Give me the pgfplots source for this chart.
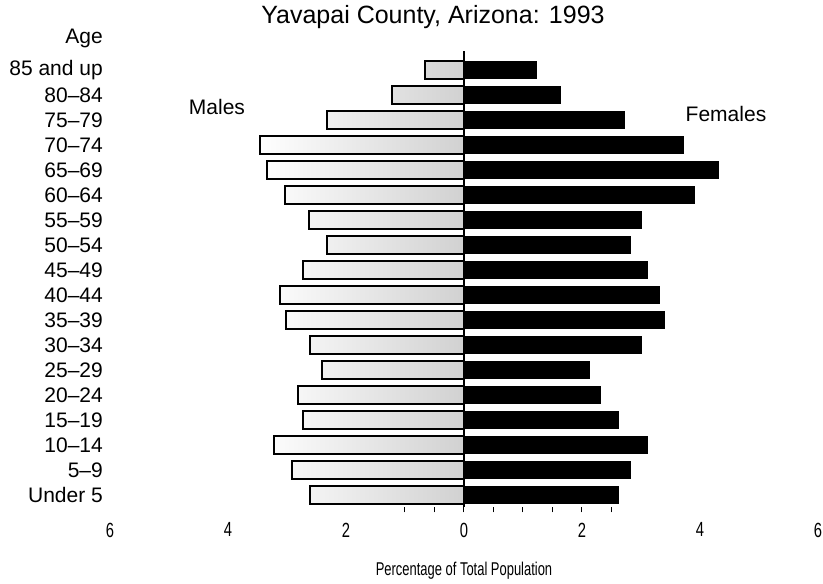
\documentclass[border=0pt]{standalone}
\usepackage{pgfplots}
\pgfplotsset{compat=1.18}
\usepackage{fontspec}
\setmainfont{Liberation Sans}
\newcommand\lf{\fontsize{21}{24}\selectfont}
\begin{document}
\begin{tikzpicture}[x=1pt,y=1pt]
\path[use as bounding box] (0,0) rectangle (823,584);
\begin{axis}[
  at={(110pt,76.5pt)}, anchor=south west,
  width=708pt, height=450pt, scale only axis,
  xmin=-6, xmax=6, ymin=-0.5, ymax=17.5,
  axis line style={draw=none},
  clip=false,
  /pgf/number format/assume math mode=true,
  xtick={-6,-4,-2,0,2,4,6},
  xticklabels={6,4,2,0,2,4,6},
  minor xtick={-1,-0.5,...,2.5},
  xtick pos=bottom, ytick pos=left,
  tick align=outside,
  major tick length=0pt, minor tick length=5pt,
  every tick/.style={black, line width=1pt},
  xticklabel style={font=\fontsize{20.5}{22}\selectfont, xscale=0.72, inner sep=0pt, anchor=north, yshift=-15pt},
  ytick={0,...,17},
  yticklabels={Under 5,5--9,10--14,15--19,20--24,25--29,30--34,35--39,40--44,45--49,50--54,55--59,60--64,65--69,70--74,75--79,80--84,85 and up},
  yticklabel style={font=\lf, anchor=east, inner sep=0pt, xshift=-7pt},
]
\addplot[xbar, bar width=17.5pt, bar shift=0pt, draw=black, line width=1.7pt,
  left color=white, middle color=white, right color=black!18]
  coordinates {
  (-2.61,0) (-2.92,1) (-3.22,2) (-2.73,3) (-2.81,4) (-2.41,5) (-2.61,6)
  (-3.02,7) (-3.12,8) (-2.73,9) (-2.32,10) (-2.63,11) (-3.03,12)
  (-3.34,13) (-3.46,14) (-2.32,15) (-1.22,16) (-0.66,17)
  };
\addplot[xbar, bar width=17.5pt, bar shift=0pt, draw=black, fill=black, line width=0.5pt]
  coordinates {
  (2.61,0) (2.81,1) (3.10,2) (2.61,3) (2.31,4) (2.12,5) (3.00,6)
  (3.39,7) (3.31,8) (3.10,9) (2.81,10) (3.00,11) (3.90,12)
  (4.31,13) (3.71,14) (2.71,15) (1.63,16) (1.22,17)
  };
\draw[black, line width=1.2pt] (axis cs:0,-0.5) -- (axis cs:0,17.75);
\end{axis}
\node[anchor=base, font=\fontsize{25}{27}\selectfont] at (433,560) {Yavapai County, Arizona: 1993};
\node[anchor=base east, font=\lf, inner sep=0pt] at (103,540) {Age};
\node[anchor=base, font=\lf] at (217,469) {Males};
\node[anchor=base, font=\lf] at (726,462) {Females};
\node[anchor=base, font=\fontsize{18.5}{20}\selectfont, xscale=0.7] at (464,8) {Percentage of Total Population};
\end{tikzpicture}
\end{document}
